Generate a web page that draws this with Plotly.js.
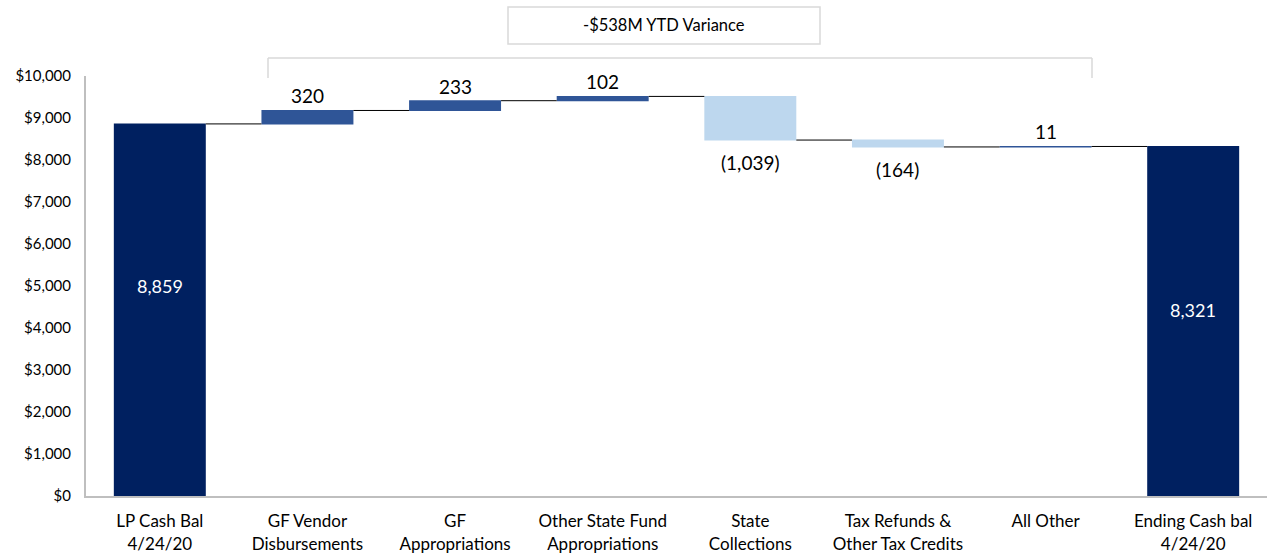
<!DOCTYPE html>
<html>
<head>
<meta charset="utf-8">
<script src="https://cdn.plot.ly/plotly-3.0.1.min.js"></script>
<style>html,body{margin:0;padding:0;background:#fff;}#chart{width:1269px;height:556px;}</style>
</head>
<body>
<div id="chart"></div>
<script>
const categories = ["LP Cash Bal<br>4/24/20", "GF Vendor<br>Disbursements", "GF<br>Appropriations", "Other State Fund<br>Appropriations", "State<br>Collections", "Tax Refunds &<br>Other Tax Credits", "All Other", "Ending Cash bal<br>4/24/20"];
const values = [8859, 320, 233, 102, -1039, -164, 11, 8321];
const measures = ["absolute", "relative", "relative", "relative", "relative", "relative", "relative", "total"];
const labels = ["8,859", "320", "233", "102", "(1,039)", "(164)", "11", "8,321"];
const yTickVals = [0, 1000, 2000, 3000, 4000, 5000, 6000, 7000, 8000, 9000, 10000];
const yTickText = ["$0", "$1,000", "$2,000", "$3,000", "$4,000", "$5,000", "$6,000", "$7,000", "$8,000", "$9,000", "$10,000"];
const varianceText = "-$538M YTD Variance";

const FONT = "Lato, 'Open Sans', sans-serif";
// relative height (fraction of column) where the inside labels of the total columns sit
const insideFrac = {0: 0.564, 7: 0.532};

const labelAnns = [];
let running = 0;
values.forEach((v, i) => {
  const m = measures[i];
  if (m === "absolute" || m === "total") {
    running = v;
    labelAnns.push({x: categories[i], y: v * insideFrac[i], xref: "x", yref: "y", text: labels[i], showarrow: false,
      xanchor: "center", yanchor: "middle", font: {size: 18, family: FONT, color: "#ffffff"}});
  } else {
    const end = running + v;
    running = end;
    if (v >= 0) {
      labelAnns.push({x: categories[i], y: end, xref: "x", yref: "y", text: labels[i], showarrow: false,
        xanchor: "center", yanchor: "bottom", yshift: 1, font: {size: 19, family: FONT, color: "#000000"}});
    } else {
      labelAnns.push({x: categories[i], y: end, xref: "x", yref: "y", text: labels[i], showarrow: false,
        xanchor: "center", yanchor: "top", yshift: -9, font: {size: 19, family: FONT, color: "#000000"}});
    }
  }
});

const trace = {
  type: "waterfall",
  x: categories,
  y: values,
  measure: measures,
  textinfo: "none",
  cliponaxis: false,
  width: 0.623,
  increasing: {marker: {color: "#2F5597"}},
  decreasing: {marker: {color: "#BDD7EE"}},
  totals: {marker: {color: "#002060"}},
  connector: {line: {color: "#000000", width: 1}},
  hoverinfo: "none"
};

const bx0 = (268-86)/1181, bx1 = (1092-86)/1181;
const by0 = (496-78)/420, by1 = (496-58)/420;

const layout = {
  width: 1269,
  height: 556,
  margin: {l: 86, r: 2, t: 76, b: 60},
  paper_bgcolor: "#ffffff",
  plot_bgcolor: "#ffffff",
  showlegend: false,
  font: {family: FONT, color: "#000000"},
  xaxis: {
    type: "category",
    range: [-0.5, 7.5],
    showgrid: false,
    zeroline: false,
    showline: true,
    linecolor: "#bfbfbf",
    linewidth: 2,
    ticks: "",
    ticklabelstandoff: 9,
    tickfont: {size: 17, family: FONT, color: "#000000"},
    fixedrange: true
  },
  yaxis: {
    range: [0, 10000],
    tickvals: yTickVals,
    ticktext: yTickText,
    showgrid: false,
    zeroline: false,
    showline: true,
    linecolor: "#bfbfbf",
    linewidth: 2,
    ticks: "",
    ticklabelstandoff: 10,
    tickfont: {size: 15, family: FONT, color: "#000000"},
    fixedrange: true
  },
  shapes: [
    {type: "line", xref: "paper", yref: "paper", x0: bx0, x1: bx0, y0: by0, y1: by1, line: {color: "#d9d9d9", width: 1.5}},
    {type: "line", xref: "paper", yref: "paper", x0: bx0, x1: bx1, y0: by1, y1: by1, line: {color: "#d9d9d9", width: 1.5}},
    {type: "line", xref: "paper", yref: "paper", x0: bx1, x1: bx1, y0: by0, y1: by1, line: {color: "#d9d9d9", width: 1.5}},
    {type: "rect", xref: "paper", yref: "paper", x0: (508-86)/1181, x1: (820-86)/1181, y0: (496-44)/420, y1: (496-7)/420, line: {color: "#d9d9d9", width: 1.5}, fillcolor: "#ffffff"}
  ],
  annotations: [
    {xref: "paper", yref: "paper", x: (664-86)/1181, y: (496-25)/420, text: varianceText, showarrow: false, xanchor: "center", yanchor: "middle", font: {size: 16.5, family: FONT, color: "#000000"}}
  ].concat(labelAnns)
};

Plotly.newPlot("chart", [trace], layout, {displayModeBar: false, staticPlot: true});
</script>
</body>
</html>
